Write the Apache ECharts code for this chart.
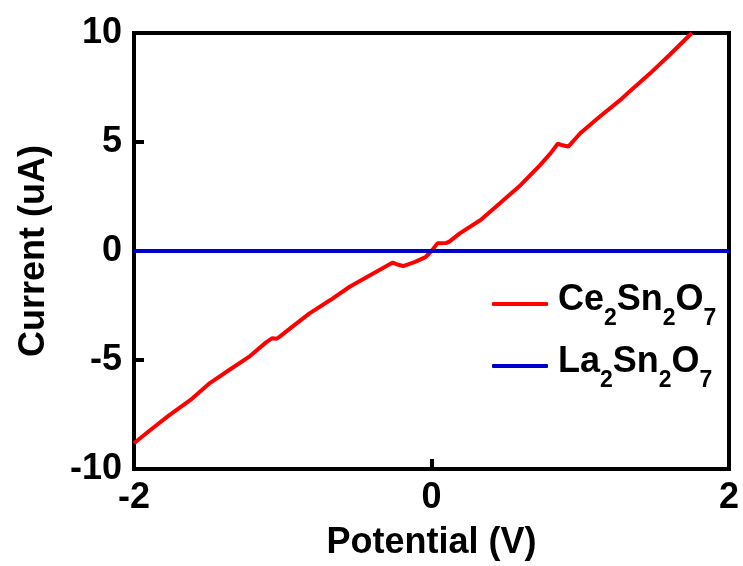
<!DOCTYPE html>
<html>
<head>
<meta charset="utf-8">
<script src="https://cdn.jsdelivr.net/npm/echarts@6/dist/echarts.min.js"></script>
<style>html,body{margin:0;padding:0;background:#fff;}#c{width:743px;height:566px;}</style>
</head>
<body>
<div id="c"></div>
<script>
// Ce2Sn2O7 I-V curve (Potential V, Current uA)
var ceX = [-2.0, -1.89, -1.76, -1.62, -1.49, -1.36, -1.22, -1.11, -1.07, -1.04, -1.02, -0.95, -0.82, -0.68, -0.55, -0.41, -0.26, -0.23, -0.19, -0.11, -0.04, 0.0, 0.04, 0.10, 0.12, 0.19, 0.33, 0.46, 0.60, 0.73, 0.80, 0.85, 0.88, 0.92, 1.0, 1.13, 1.27, 1.33, 1.47, 1.60, 1.75];
var ceY = [-8.82, -8.21, -7.52, -6.83, -6.06, -5.46, -4.82, -4.18, -4.0, -4.02, -3.93, -3.55, -2.86, -2.25, -1.64, -1.10, -0.53, -0.62, -0.69, -0.50, -0.28, 0.0, 0.35, 0.37, 0.43, 0.81, 1.42, 2.19, 3.03, 3.94, 4.48, 4.93, 4.85, 4.79, 5.40, 6.16, 6.93, 7.31, 8.15, 8.99, 10.0];
// La2Sn2O7 flat line
var laX = [-2, -1, 0, 1, 2];
var laY = [0, 0, 0, 0, 0];
var xTicks = [-2, 0, 2];
var yTicks = [-10, -5, 0, 5, 10];
var seriesNames = ['Ce2Sn2O7', 'La2Sn2O7'];

function zip(a, b) { return a.map(function (v, i) { return [v, b[i]]; }); }
var FONT = '"Liberation Sans", Arial, sans-serif';
var FS = 36;

var chart = echarts.init(document.getElementById('c'), null, { renderer: 'canvas' });
var legendRich = {
  b: { fontSize: FS, fontWeight: 'bold', fontFamily: FONT, color: '#000', lineHeight: 44, verticalAlign: 'top' },
  s: { fontSize: 23, fontWeight: 'bold', fontFamily: FONT, color: '#000', lineHeight: 44, padding: [25, 0, 0, 0], verticalAlign: 'top' }
};
function legendFmt(name) {
  var m = name.match(/^([A-Z][a-z]?)(\d)(Sn)(\d)(O)(\d)$/);
  return '{b|' + m[1] + '}{s|' + m[2] + '}{b|' + m[3] + '}{s|' + m[4] + '}{b|' + m[5] + '}{s|' + m[6] + '}';
}

chart.setOption({
  animation: false,
  backgroundColor: '#fff',
  grid: { left: 134, right: 14, top: 33, bottom: 97, show: true, borderColor: '#000', borderWidth: 4, backgroundColor: 'transparent' },
  legend: {
    orient: 'vertical', left: 487, top: 277, itemGap: 14,
    itemWidth: 56, itemHeight: 4, icon: 'roundRect',
    data: seriesNames,
    formatter: legendFmt,
    textStyle: { rich: legendRich, padding: [0, 0, 0, 5] }
  },
  xAxis: {
    type: 'value', min: -2, max: 2, interval: 2,
    name: 'Potential (V)', nameLocation: 'middle', nameGap: 56,
    nameTextStyle: { fontSize: FS, fontWeight: 'bold', fontFamily: FONT, color: '#000' },
    axisLine: { show: true, onZero: false, lineStyle: { color: '#000', width: 4 } },
    axisTick: { show: true, inside: true, length: 10, lineStyle: { color: '#000', width: 4 } },
    axisLabel: { fontSize: FS, fontWeight: 'bold', fontFamily: FONT, color: '#000', margin: 11,
      formatter: function (v) { return xTicks.indexOf(v) >= 0 ? String(v) : ''; } },
    splitLine: { show: false }
  },
  yAxis: {
    type: 'value', min: -10, max: 10, interval: 5,
    name: 'Current (uA)', nameLocation: 'middle', nameGap: 82,
    nameTextStyle: { fontSize: FS, fontWeight: 'bold', fontFamily: FONT, color: '#000' },
    axisLine: { show: true, onZero: false, lineStyle: { color: '#000', width: 4 } },
    axisTick: { show: true, inside: true, length: 10, lineStyle: { color: '#000', width: 4 } },
    axisLabel: { fontSize: FS, fontWeight: 'bold', fontFamily: FONT, color: '#000', margin: 12,
      formatter: function (v) { return yTicks.indexOf(v) >= 0 ? String(v) : ''; } },
    splitLine: { show: false }
  },
  series: [
    { name: seriesNames[0], type: 'line', data: zip(ceX, ceY), showSymbol: false, symbol: 'none', clip: true,
      lineStyle: { color: '#ff0000', width: 4 }, itemStyle: { color: '#ff0000' }, z: 2 },
    { name: seriesNames[1], type: 'line', data: zip(laX, laY), showSymbol: false, symbol: 'none',
      lineStyle: { color: '#0000cc', width: 4 }, itemStyle: { color: '#0000cc' }, z: 3 }
  ]
});
</script>
</body>
</html>
